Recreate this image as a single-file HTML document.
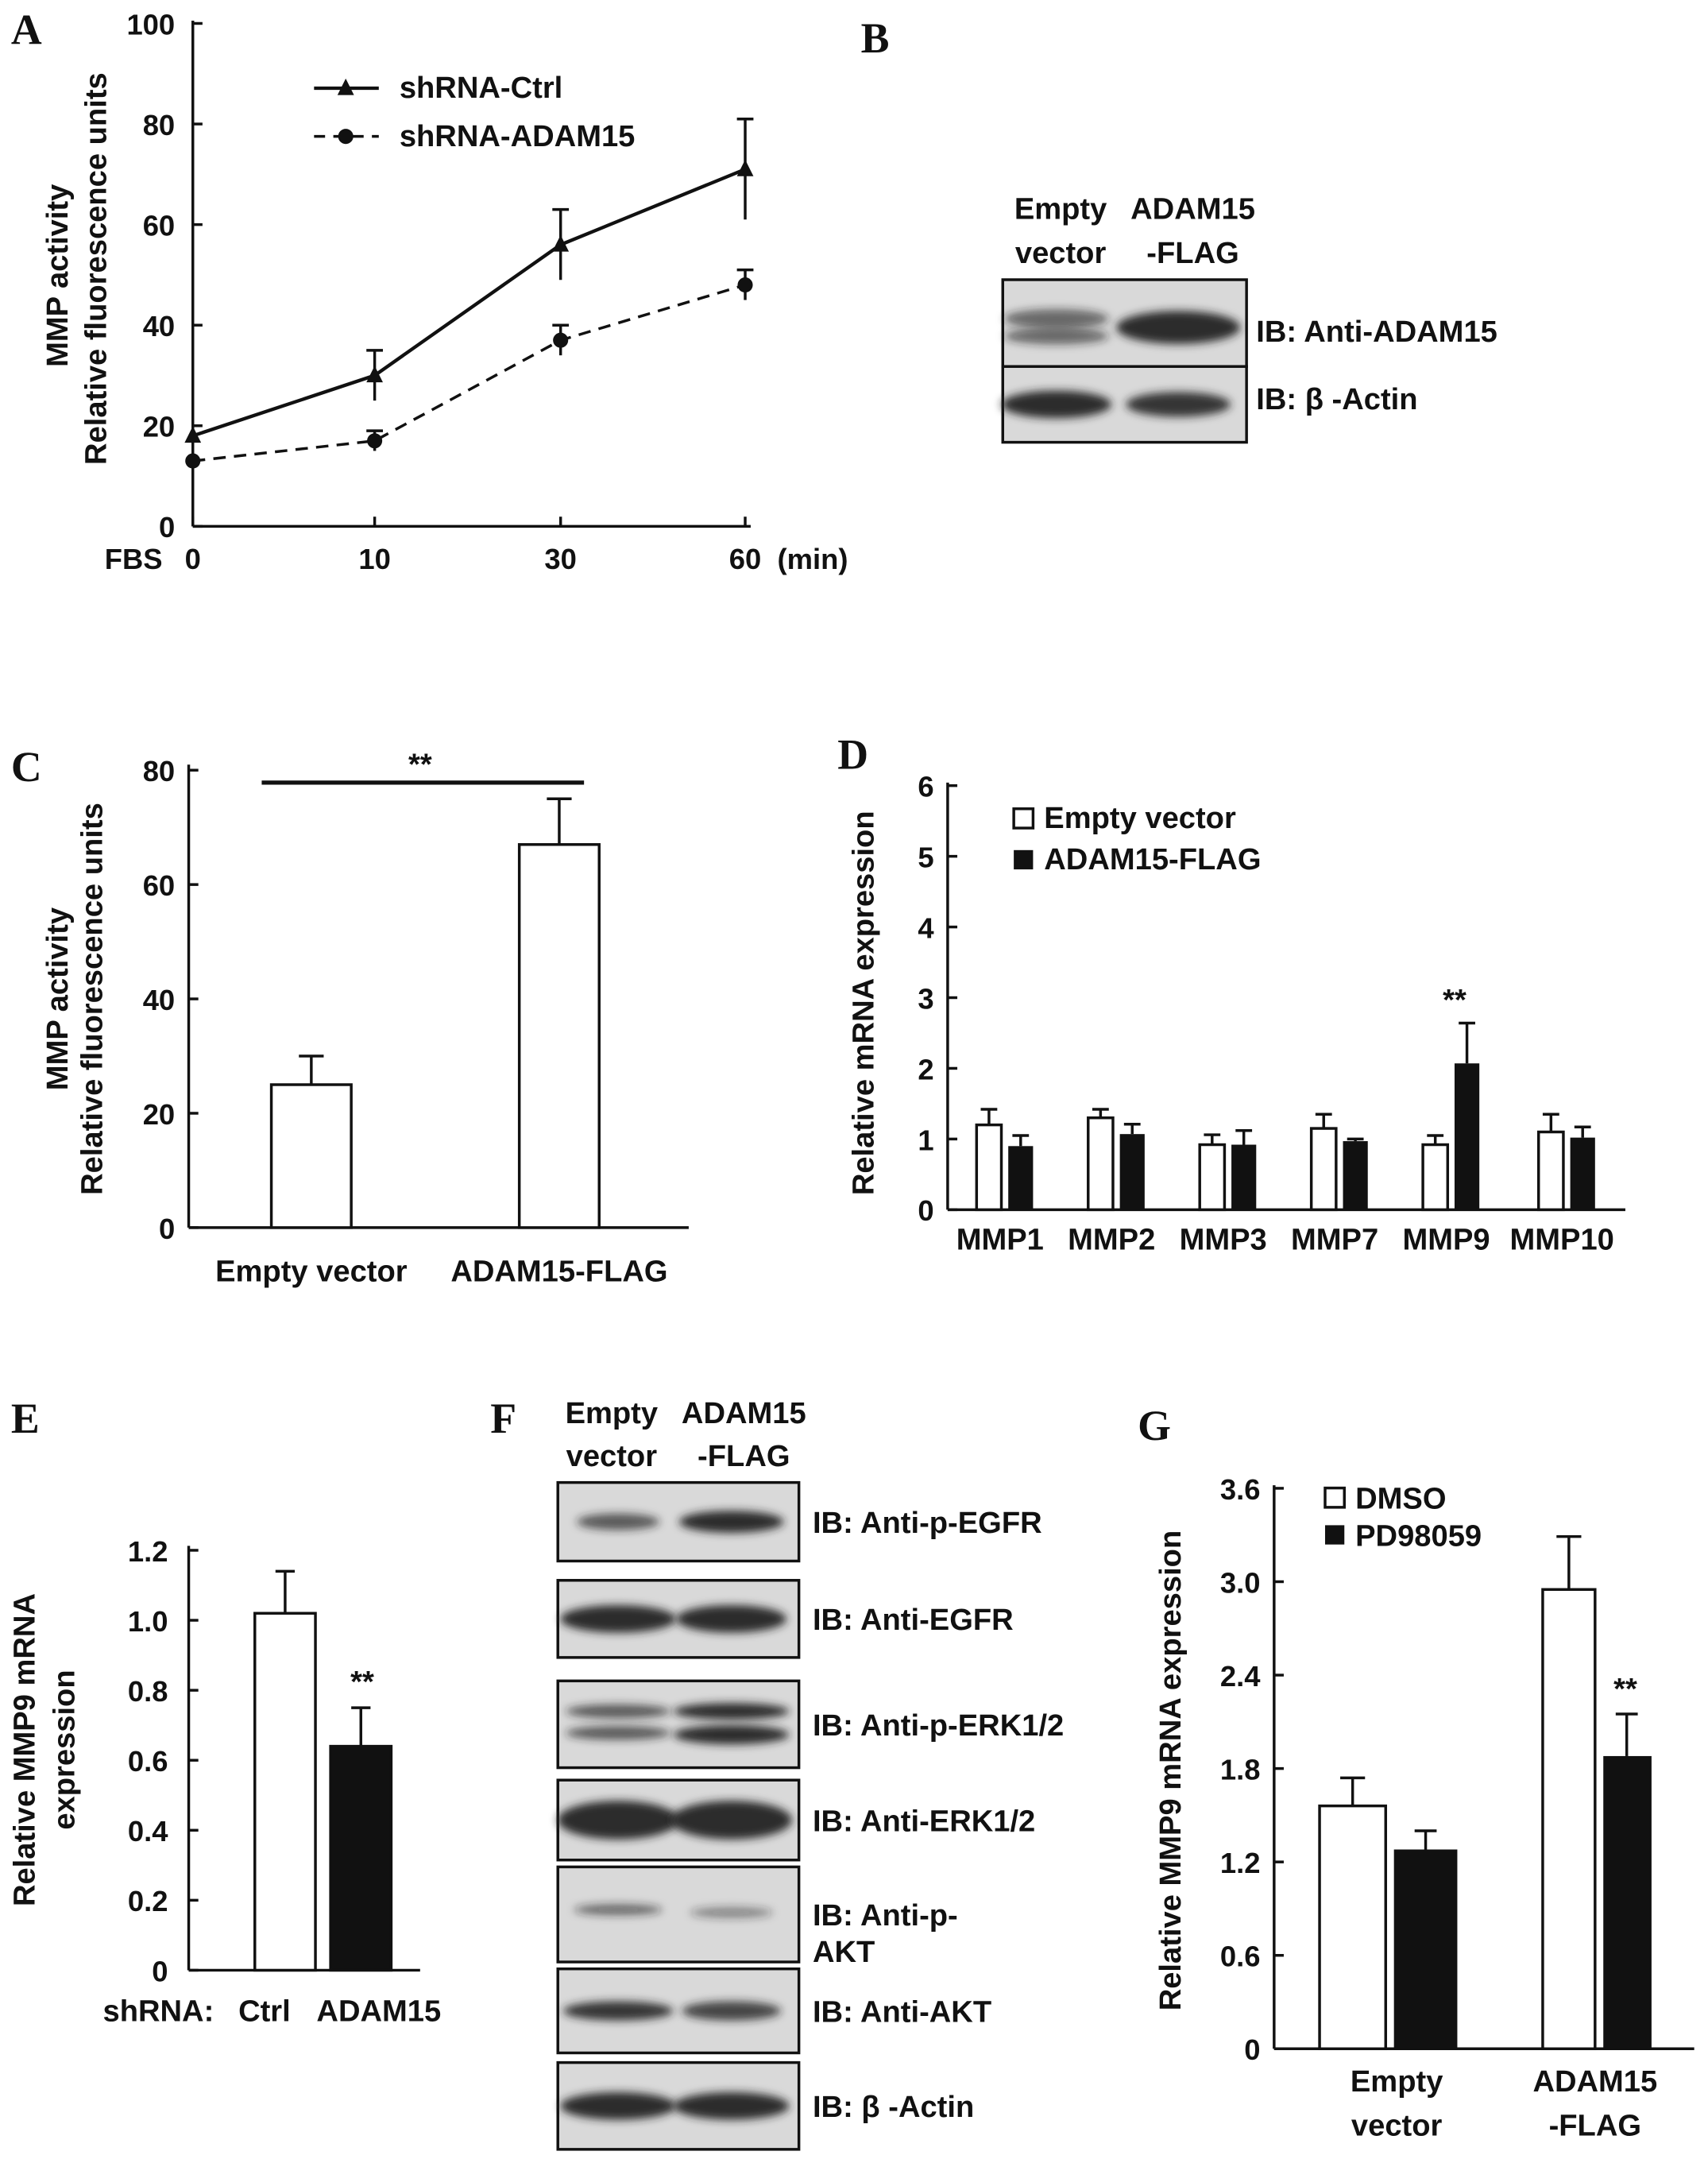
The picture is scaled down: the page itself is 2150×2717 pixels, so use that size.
<!DOCTYPE html>
<html><head><meta charset="utf-8"><style>
html,body{margin:0;padding:0;background:#fff}
svg{display:block}
text{font-family:"Liberation Sans",sans-serif;font-weight:bold;fill:#111}
.L{font-family:"Liberation Serif",serif;font-size:31px}
.t{font-size:21px}
.a{font-size:22px}
</style></head><body>
<svg id="fig" width="2150" height="2717" viewBox="0 0 1240 1567" xmlns="http://www.w3.org/2000/svg">
<defs><filter id="bl" x="-20%" y="-100%" width="140%" height="300%"><feGaussianBlur stdDeviation="3"/></filter></defs>
<text class="L" x="8" y="32">A</text>
<text class="L" x="625" y="38">B</text>
<text class="L" x="8" y="567">C</text>
<text class="L" x="608" y="558">D</text>
<text class="L" x="8" y="1040">E</text>
<text class="L" x="356" y="1040">F</text>
<text class="L" x="826" y="1045">G</text>
<g id="g"></g>
</svg>
<script>
// Panel A data
const aCats=["0","10","30","60"];
const aCtrl=[18,30,56,71];
const aCtrlErr=[0,5,7,10];
const aAdam=[13,17,37,48];
const aAdamErr=[0,2,3,3];
const aTicks=[0,20,40,60,80,100];
// Panel C
const cCats=["Empty vector","ADAM15-FLAG"];
const cVals=[25,67];
const cErr=[5,8];
const cTicks=[0,20,40,60,80];
// Panel D
const dCats=["MMP1","MMP2","MMP3","MMP7","MMP9","MMP10"];
const dEmpty=[1.2,1.3,0.92,1.15,0.92,1.1];
const dEmptyErr=[0.22,0.12,0.14,0.2,0.13,0.25];
const dAdam=[0.9,1.07,0.92,0.97,2.07,1.02];
const dAdamErr=[0.15,0.14,0.2,0.03,0.57,0.15];
const dTicks=[0,1,2,3,4,5,6];
// Panel E
const eCats=["Ctrl","ADAM15"];
const eVals=[1.02,0.64];
const eErr=[0.12,0.11];
const eTicks=["0","0.2","0.4","0.6","0.8","1.0","1.2"];
// Panel G
const gCats=["Empty vector","ADAM15 -FLAG"];
const gDmso=[1.56,2.95];
const gDmsoErr=[0.18,0.34];
const gPd=[1.28,1.88];
const gPdErr=[0.12,0.27];
const gTicks=["0","0.6","1.2","1.8","2.4","3.0","3.6"];

const NS="http://www.w3.org/2000/svg";
const root=document.getElementById('g');
function mk(tag,at,txt){const e=document.createElementNS(NS,tag);for(const k in at)e.setAttribute(k,at[k]);if(txt!==undefined)e.textContent=txt;root.appendChild(e);return e;}
function line(x1,y1,x2,y2,w,dash){const e=mk('line',{x1,y1,x2,y2,stroke:'#111','stroke-width':w||2});if(dash)e.setAttribute('stroke-dasharray',dash);return e;}
function txt(x,y,s,cls,anchor){return mk('text',{x,y,class:cls||'t','text-anchor':anchor||'middle'},s);}
function err(x,y1,y2,w){line(x,y1,x,y2,2);line(x-w,y1,x+w,y1,2);}

// ---- Panel A
const ay=v=>382-3.65*v, ax=[140,272,407,541];
let e;
e=line(140,15,140,382,2);
e=line(140,382,545,382,2);
aTicks.forEach(t=>{line(140,ay(t),147,ay(t));e=txt(127,ay(t)+8,String(t),'t','end');});
aCats.forEach((c,i)=>{line(ax[i],382,ax[i],375);e=txt(ax[i],413,c);});
txt(97,413,'FBS');txt(590,413,'(min)');
e=txt(0,0,'MMP activity','a');e.setAttribute('transform','translate(49,200) rotate(-90)');
e=txt(0,0,'Relative fluorescence units','a');e.setAttribute('transform','translate(77,195) rotate(-90)');
e=mk('polyline',{points:aAdam.map((v,i)=>ax[i]+','+ay(v)).join(' '),fill:'none',stroke:'#111','stroke-width':2,'stroke-dasharray':'9,6'});

e=mk('polyline',{points:aCtrl.map((v,i)=>ax[i]+','+ay(v)).join(' '),fill:'none',stroke:'#111','stroke-width':2.5});

aCtrl.forEach((v,i)=>{if(aCtrlErr[i])err(ax[i],ay(v+aCtrlErr[i]),ay(v-aCtrlErr[i]),6);
 e=mk('polygon',{points:`${ax[i]},${ay(v)-7} ${ax[i]-6},${ay(v)+5} ${ax[i]+6},${ay(v)+5}`,fill:'#111'});});
aAdam.forEach((v,i)=>{if(aAdamErr[i])err(ax[i],ay(v+aAdamErr[i]),ay(v-aAdamErr[i]),6);
 e=mk('circle',{cx:ax[i],cy:ay(v),r:5.5,fill:'#111'});});
line(228,64,275,64,2.5);mk('polygon',{points:'251,57 245,69 257,69',fill:'#111'});txt(290,71,'shRNA-Ctrl','a','start');
line(228,99,275,99,2,'8,6');mk('circle',{cx:251,cy:99,r:5.5,fill:'#111'});txt(290,106,'shRNA-ADAM15','a','start');

// ---- blots
function blot(x,y,w,h,bands,name){
 e=mk('rect',{x,y,width:w,height:h,fill:'#d9d9d9',stroke:'#111','stroke-width':2});
 bands.forEach(b=>mk('ellipse',{cx:x+b[0]*w,cy:y+b[1]*h,rx:b[2],ry:b[3],fill:'#222','fill-opacity':b[4],filter:'url(#bl)'}));
}
txt(770,159,'Empty','a');txt(770,191,'vector','a');txt(866,159,'ADAM15','a');txt(866,191,'-FLAG','a');
blot(728,203,177,63,[[0.22,0.45,38,7,0.6],[0.22,0.65,38,6,0.6],[0.72,0.55,45,12,0.95]],'blot-anti-adam15');
blot(728,266,177,55,[[0.22,0.5,40,10,0.95],[0.72,0.5,38,9,0.9]],'blot-b-actin');
txt(912,248,'IB: Anti-ADAM15','a','start');txt(912,297,'IB: β -Actin','a','start');

// ---- Panel C
const cy=v=>891-4.15*v, cx=[226,406];
line(137,555,137,891,2);line(137,891,500,891,2);
cTicks.forEach(t=>{line(137,cy(t),144,cy(t));txt(127,cy(t)+8,String(t),'t','end');});
cVals.forEach((v,i)=>{e=mk('rect',{x:cx[i]-29,y:cy(v),width:58,height:891-cy(v),fill:'#fff',stroke:'#111','stroke-width':2});
 err(cx[i],cy(v+cErr[i]),cy(v),9);txt(cx[i],930,cCats[i],'a');});
line(190,568,424,568,3);txt(305,562,'**','a');
e=txt(0,0,'MMP activity','a');e.setAttribute('transform','translate(49,725) rotate(-90)');
e=txt(0,0,'Relative fluorescence units','a');e.setAttribute('transform','translate(74,725) rotate(-90)');

// ---- Panel D
const dy=v=>878-51.3*v, dx=[729,810,891,972,1053,1137];
line(688,568,688,878,2);line(688,878,1180,878,2);
dTicks.forEach(t=>{line(688,dy(t),695,dy(t));txt(678,dy(t)+8,String(t),'t','end');});
dCats.forEach((c,i)=>{
 let v=dEmpty[i];e=mk('rect',{x:dx[i]-20,y:dy(v),width:18,height:878-dy(v),fill:'#fff',stroke:'#111','stroke-width':2});
 err(dx[i]-11,dy(v+dEmptyErr[i]),dy(v),6);
 v=dAdam[i];e=mk('rect',{x:dx[i]+3,y:dy(v),width:18,height:878-dy(v),fill:'#111'});
 err(dx[i]+12,dy(v+dAdamErr[i]),dy(v),6);
 txt(dx[i]-3,907,c,'a');});
txt(1056,733,'**','a');
mk('rect',{x:736,y:587,width:14,height:14,fill:'#fff',stroke:'#111','stroke-width':2});txt(758,601,'Empty vector','a','start');
mk('rect',{x:736,y:617,width:14,height:14,fill:'#111'});txt(758,631,'ADAM15-FLAG','a','start');
e=txt(0,0,'Relative mRNA expression','a');e.setAttribute('transform','translate(634,728) rotate(-90)');

// ---- Panel E
const ey=v=>1430-254*v, ex=[207,262];
line(137,1122,137,1430,2);line(137,1430,305,1430,2);
eTicks.forEach(t=>{line(137,ey(+t),144,ey(+t));txt(122,ey(+t)+8,t,'t','end');});
eVals.forEach((v,i)=>{e=mk('rect',{x:ex[i]-22,y:ey(v),width:44,height:1430-ey(v),fill:i?'#111':'#fff',stroke:'#111','stroke-width':2});
 err(ex[i],ey(v+eErr[i]),ey(v),7);txt(ex[i]-(i?-13:15),1467,eCats[i],'a');});
txt(115,1467,'shRNA:','a');txt(263,1228,'**','a');
e=txt(0,0,'Relative MMP9 mRNA','a');e.setAttribute('transform','translate(25,1270) rotate(-90)');
e=txt(0,0,'expression','a');e.setAttribute('transform','translate(54,1270) rotate(-90)');

// ---- Panel F
txt(444,1033,'Empty','a');txt(444,1064,'vector','a');txt(540,1033,'ADAM15','a');txt(540,1064,'-FLAG','a');
const fb=[[1076,57,'IB: Anti-p-EGFR',[[0.25,0.5,30,6,0.7],[0.72,0.5,38,8,0.95]]],
[1147,56,'IB: Anti-EGFR',[[0.25,0.5,42,10,0.95],[0.72,0.5,40,10,0.95]]],
[1220,63,'IB: Anti-p-ERK1/2',[[0.25,0.35,38,5,0.7],[0.25,0.6,38,5,0.7],[0.72,0.35,42,6,0.95],[0.72,0.62,42,7,0.95]]],
[1292,58,'IB: Anti-ERK1/2',[[0.25,0.5,44,14,0.95],[0.72,0.5,44,14,0.95]]],
[1355,69,'IB: Anti-p-',[[0.25,0.45,32,4,0.6],[0.72,0.48,30,4,0.45]]],
[1429,61,'IB: Anti-AKT',[[0.25,0.5,40,7,0.9],[0.72,0.5,36,7,0.8]]],
[1497,63,'IB: β -Actin',[[0.25,0.5,42,10,0.95],[0.72,0.5,42,10,0.95]]]];
fb.forEach((b,i)=>{blot(405,b[0],175,b[1],b[3],'blot-f-'+i);txt(590,b[0]+b[1]/2+8,b[2],'a','start');});
txt(590,1424,'AKT','a','start');

// ---- Panel G
const gy=v=>1487-113*v, gx=[1008,1160];
line(925,1078,925,1487,2);line(925,1487,1230,1487,2);
gTicks.forEach(t=>{line(925,gy(+t),932,gy(+t));txt(915,gy(+t)+8,t,'t','end');});
gCats.forEach((c,i)=>{
 let v=gDmso[i];e=mk('rect',{x:gx[i]-50+(i?10:0),y:gy(v),width:i?38:48,height:1487-gy(v),fill:'#fff',stroke:'#111','stroke-width':2});
 err(gx[i]-(i?21:26),gy(v+gDmsoErr[i]),gy(v),9);
 v=gPd[i];e=mk('rect',{x:gx[i]+4,y:gy(v),width:i?35:46,height:1487-gy(v),fill:'#111'});
 err(gx[i]+(i?21:27),gy(v+gPdErr[i]),gy(v),8);
 const p=c.split(' ');txt(gx[i]+(i?-2:6),1518,p[0],'a');txt(gx[i]+(i?-2:6),1550,p[1],'a');});
txt(1180,1233,'**','a');
mk('rect',{x:962,y:1080,width:14,height:14,fill:'#fff',stroke:'#111','stroke-width':2});txt(984,1095,'DMSO','a','start');
mk('rect',{x:962,y:1107,width:14,height:14,fill:'#111'});txt(984,1122,'PD98059','a','start');
e=txt(0,0,'Relative MMP9 mRNA expression','a');e.setAttribute('transform','translate(857,1285) rotate(-90)');
</script>
</body></html>
